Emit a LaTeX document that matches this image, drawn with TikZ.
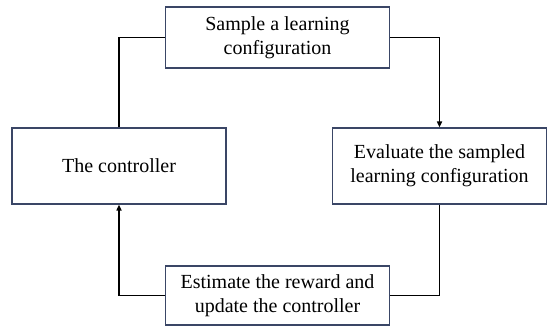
\documentclass[tikz,border=0pt]{standalone}
\usepackage{fontspec}
\setmainfont{Liberation Serif}
\usetikzlibrary{arrows.meta}
\begin{document}
\begin{tikzpicture}[x=1pt,y=-1pt,
  box/.style={draw=boxcol, line width=1.1pt, fill=white, inner sep=0pt, align=center,
    font=\fontsize{20}{24}\selectfont},
  conn/.style={line width=1.5pt, black},
  arr/.style={conn, -{Triangle[length=6pt,width=5pt]}}]
\definecolor{boxcol}{HTML}{3A4666}
\useasboundingbox (0,0) rectangle (547,326);
\node[box, minimum width=224pt, minimum height=61pt] (top) at (277.5,37.5) {Sample a learning\\configuration};
\node[box, minimum width=214pt, minimum height=76pt] (left) at (119,166) {The controller};
\node[box, minimum width=214pt, minimum height=76pt] (right) at (439.5,166) {Evaluate the sampled\\learning configuration};
\node[box, minimum width=224pt, minimum height=59pt] (bot) at (277.5,295.5) {Estimate the reward and\\update the controller};
\draw[arr] (top.east) -| (right.north);
\draw[conn] (right.south) |- (bot.east);
\draw[arr] (bot.west) -| (left.south);
\draw[conn] (left.north) |- (top.west);
\end{tikzpicture}
\end{document}
